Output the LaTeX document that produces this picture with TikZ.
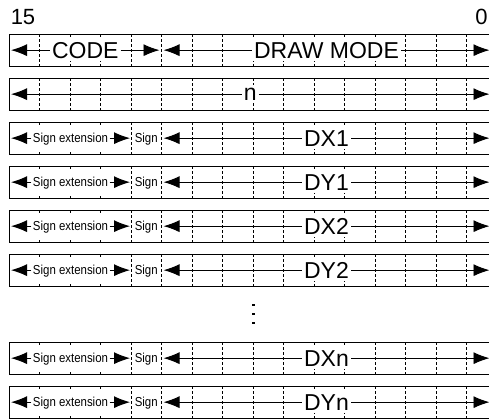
\documentclass[tikz,border=0pt]{standalone}
\usepackage{fontspec}
\setmainfont{Liberation Sans}
\usetikzlibrary{arrows.meta}
\tikzset{
  rowbox/.style={line width=1pt},
  divider/.style={line width=0.8pt, dash pattern=on 3pt off 2pt},
  fieldarrow/.style={line width=0.9pt, -{Latex[length=16pt, width=12pt]}},
  bigl/.style={fill=white, font=\fontsize{23}{23}\selectfont, inner xsep=2pt, inner ysep=3pt},
  smalll/.style={fill=white, font=\fontsize{13}{13}\selectfont, inner xsep=1.5pt, inner ysep=0pt, minimum height=25pt, text depth=0pt},
  bitno/.style={font=\fontsize{22}{22}\selectfont, inner sep=0pt}
}
\newcommand{\regrow}[2]{%
  \draw[rowbox] (9,#2) rectangle (497,#2+31.7);
  \foreach \k in {1,...,15} \draw[divider] (9+\k*30.5,#2) -- (9+\k*30.5,#2+31.7);
  \coordinate (#1-L) at (11,#2+15.85);
  \coordinate (#1-Sl) at (130,#2+15.85);
  \coordinate (#1-Sc) at (146.25,#2+15.85);
  \coordinate (#1-Ml) at (159.5,#2+15.85);
  \coordinate (#1-Mr) at (163.5,#2+15.85);
  \coordinate (#1-R) at (489.5,#2+15.85);
}
\newcommand{\signrow}[3]{% name, top, label
  \regrow{#1}{#2}
  \path (#1-L) -- (#1-Sl) node[midway, smalll] (#1-ext) {\scalebox{0.88}[1]{Sign extension}};
  \node[smalll, minimum height=0pt, inner ysep=2pt] (#1-sign) at (#1-Sc) {\scalebox{0.88}[1]{Sign}};
  \path (#1-Mr) -- (#1-R) node[midway, bigl] (#1-val) {#3};
  \draw[fieldarrow] (#1-ext) -- (#1-L);
  \draw[fieldarrow] (#1-ext) -- (#1-Sl);
  \draw[fieldarrow] (#1-val) -- (#1-Mr);
  \draw[fieldarrow] (#1-val) -- (#1-R);
}
\begin{document}
\begin{tikzpicture}[x=1pt,y=-1pt]
\useasboundingbox (0,0) rectangle (489,418);
\clip (0,0) rectangle (489,418);

\node[bitno] (b15) at (23,17) {15};
\node[bitno] (b0) at (481.5,17) {0};

% CODE / DRAW MODE
\regrow{r0}{34.3}
\path (r0-L) -- (r0-Ml) node[midway, bigl] (code) {CODE};
\path (r0-Mr) -- (r0-R) node[midway, bigl] (mode) {DRAW MODE};
\draw[fieldarrow] (code) -- (r0-L);
\draw[fieldarrow] (code) -- (r0-Ml);
\draw[fieldarrow] (mode) -- (r0-Mr);
\draw[fieldarrow] (mode) -- (r0-R);

% n
\regrow{r1}{78.3}
\path (r1-L) -- (r1-R) node[midway, bigl] (nval) {n};
\draw[fieldarrow] (nval) -- (r1-L);
\draw[fieldarrow] (nval) -- (r1-R);

\signrow{r2}{122.3}{DX1}
\signrow{r3}{166.3}{DY1}
\signrow{r4}{210.3}{DX2}
\signrow{r5}{254.3}{DY2}

\node[inner sep=0pt] (vdots) at (253.3,314) {};
\foreach \yy in {-9,0,9} \fill (253.3-1.2,314+\yy-1.2) rectangle (253.3+1.2,314+\yy+1.2);

\signrow{r6}{342.3}{DXn}
\signrow{r7}{386.3}{DYn}
\end{tikzpicture}
\end{document}
